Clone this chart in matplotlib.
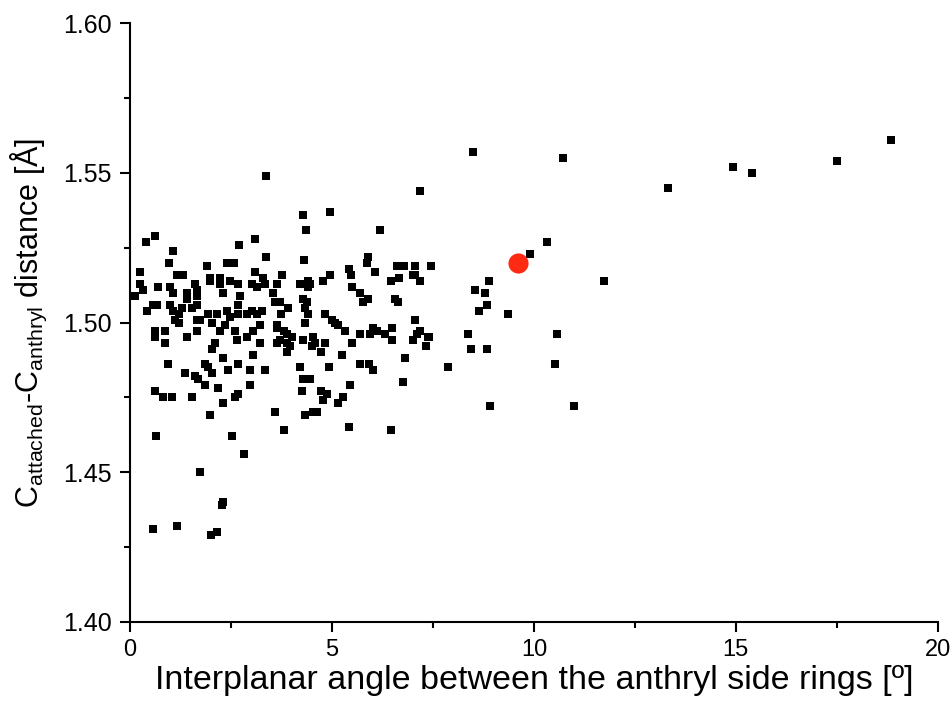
import matplotlib.pyplot as plt
from matplotlib.ticker import MultipleLocator, FormatStrFormatter

# interplanar angle [deg] and C-C distance [A]
angle = [
    11.73, 13.32, 14.93, 15.40, 17.50, 18.84,
    8.49, 10.72, 10.32, 9.90, 8.89, 8.54, 8.79, 7.45, 7.18,
    8.84, 8.64, 9.36, 7.40, 8.37, 8.44, 8.84, 10.57, 10.52, 7.87, 8.91, 10.99,
    # dense cluster, top rows
    0.25, 0.32, 0.69, 0.99, 1.06, 1.41, 1.61, 1.66, 1.98, 2.23, 2.30, 2.67,
    2.72, 3.02, 3.14, 3.34, 3.64, 3.54, 0.12,
    0.41, 0.58, 0.66, 0.99, 1.07, 1.20, 1.28, 1.40, 1.53, 1.65, 1.65, 1.94,
    2.15, 2.39, 2.48, 2.68, 2.68, 2.89, 3.01, 3.14, 3.26, 3.59,
    1.20, 1.11, 1.65, 1.73, 2.02, 2.23, 2.35, 2.60, 2.64, 2.89, 3.05, 3.22,
    3.63, 0.62, 0.62, 0.87, 0.87, 1.40, 1.65, 2.10, 2.02, 2.31, 2.68, 3.05,
    3.22, 3.63, 0.95, 1.36, 1.86, 1.94, 2.02, 2.43, 2.97, 3.34, 1.61, 1.69,
    1.86, 2.19, 2.97, 0.62, 0.82, 1.03, 1.53, 2.60, 2.68, 2.31, 1.98, 3.59,
    # low outliers
    0.64, 2.53, 2.82, 1.73, 2.31, 2.27, 0.58, 1.16, 2.15, 2.00,
    # upper part of the cluster
    3.37, 0.40, 0.62, 1.07, 0.97, 1.16, 1.31, 0.25, 1.91, 2.70, 3.09, 3.37,
    2.40, 2.57, 1.98, 2.23, 2.48, 3.09, 3.29,
    4.29, 4.95, 4.36, 6.19, 4.31, 5.90, 5.86, 6.06, 5.43, 5.46, 6.60, 6.78,
    7.05, 7.05, 7.00, 6.67, 6.45, 7.18, 3.77, 4.21, 4.41, 4.46, 4.77, 4.95,
    5.49,
    # middle part, x 3.5-7.5
    4.41, 5.69, 5.90, 5.78, 6.56, 6.64, 3.71, 3.92, 4.29, 4.37, 4.33, 4.41,
    4.33, 3.75, 3.63, 3.80, 3.88, 4.00, 3.71, 3.88, 3.96, 3.88, 4.29, 4.54,
    4.58, 4.50, 4.74, 4.83, 4.83, 4.99, 5.07, 5.16, 5.32, 5.49, 5.69, 5.94,
    6.02, 6.11, 6.31, 6.48, 6.48, 7.05, 7.01, 7.10, 7.18, 7.38, 7.34, 5.24,
    6.81, 4.21, 4.93, 5.69, 5.92, 6.02, 4.29, 4.46, 5.45, 6.77, 4.27, 4.74,
    4.87, 4.79, 5.16, 5.28, 4.33, 4.54, 4.62, 3.81, 5.42, 6.45,
]
distance = [
    1.514, 1.545, 1.552, 1.550, 1.554, 1.561,
    1.557, 1.555, 1.527, 1.523, 1.514, 1.511, 1.510, 1.519, 1.544,
    1.506, 1.504, 1.503, 1.495, 1.496, 1.491, 1.491, 1.496, 1.486, 1.485, 1.472, 1.472,
    1.513, 1.511, 1.512, 1.512, 1.510, 1.510, 1.513, 1.511, 1.514, 1.513, 1.510, 1.513,
    1.509, 1.513, 1.512, 1.513, 1.513, 1.510, 1.509,
    1.504, 1.506, 1.506, 1.506, 1.504, 1.503, 1.505, 1.508, 1.505, 1.506, 1.509, 1.503,
    1.503, 1.504, 1.502, 1.506, 1.503, 1.503, 1.504, 1.503, 1.504, 1.507,
    1.500, 1.501, 1.501, 1.501, 1.500, 1.497, 1.499, 1.497, 1.494, 1.495, 1.497, 1.499,
    1.498, 1.497, 1.495, 1.497, 1.493, 1.495, 1.497, 1.493, 1.491, 1.488, 1.486, 1.489,
    1.493, 1.493, 1.486, 1.483, 1.486, 1.485, 1.483, 1.484, 1.484, 1.484, 1.482, 1.481,
    1.479, 1.478, 1.479, 1.477, 1.475, 1.475, 1.475, 1.475, 1.476, 1.473, 1.469, 1.470,
    1.462, 1.462, 1.456, 1.450, 1.440, 1.439, 1.431, 1.432, 1.430, 1.429,
    1.549, 1.527, 1.529, 1.524, 1.520, 1.516, 1.516, 1.517, 1.519, 1.526, 1.528, 1.522,
    1.520, 1.520, 1.515, 1.515, 1.514, 1.517, 1.515,
    1.536, 1.537, 1.531, 1.531, 1.521, 1.522, 1.520, 1.517, 1.518, 1.516, 1.519, 1.519,
    1.519, 1.516, 1.516, 1.515, 1.514, 1.514, 1.516, 1.513, 1.514, 1.513, 1.514, 1.516,
    1.512,
    1.512, 1.510, 1.508, 1.507, 1.508, 1.507, 1.507, 1.505, 1.508, 1.507, 1.505, 1.503,
    1.500, 1.503, 1.499, 1.497, 1.496, 1.495, 1.494, 1.493, 1.492, 1.490, 1.494, 1.495,
    1.493, 1.492, 1.490, 1.493, 1.503, 1.501, 1.500, 1.499, 1.497, 1.493, 1.496, 1.496,
    1.498, 1.497, 1.496, 1.494, 1.498, 1.501, 1.494, 1.496, 1.497, 1.495, 1.492, 1.489,
    1.488, 1.485, 1.485, 1.486, 1.486, 1.484, 1.481, 1.481, 1.479, 1.480, 1.477, 1.477,
    1.476, 1.474, 1.473, 1.475, 1.469, 1.470, 1.470, 1.464, 1.465, 1.464,
]

# the highlighted structure
highlight_angle = [9.60]
highlight_distance = [1.520]

plt.rcParams['font.family'] = ['Liberation Sans', 'DejaVu Sans']
plt.rcParams['mathtext.fontset'] = 'custom'
plt.rcParams['mathtext.rm'] = 'Liberation Sans'
plt.rcParams['mathtext.it'] = 'Liberation Sans'

fig = plt.figure(figsize=(9.52, 7.06), dpi=100)
ax = fig.add_axes([0.1366, 0.119, 0.8484, 0.8484])

ax.scatter(angle, distance, marker='s', s=34, c='black', linewidths=0, zorder=2)
ax.scatter(highlight_angle, highlight_distance, marker='o', s=210,
           c='#ff2a12', linewidths=0, zorder=3)

ax.set_xlim(0, 20)
ax.set_ylim(1.40, 1.60)

ax.spines['top'].set_visible(False)
ax.spines['right'].set_visible(False)
ax.spines['left'].set_linewidth(1.5)
ax.spines['bottom'].set_linewidth(1.5)

ax.xaxis.set_major_locator(MultipleLocator(5))
ax.xaxis.set_minor_locator(MultipleLocator(2.5))
ax.yaxis.set_major_locator(MultipleLocator(0.05))
ax.yaxis.set_minor_locator(MultipleLocator(0.025))
ax.yaxis.set_major_formatter(FormatStrFormatter('%.2f'))

ax.tick_params(which='major', direction='out', length=7, width=1.5)
ax.tick_params(which='minor', direction='out', length=4, width=1.5)
ax.tick_params(axis='x', labelsize=17, pad=5)
ax.tick_params(axis='y', labelsize=18, pad=6)

ax.set_xlabel('Interplanar angle between the anthryl side rings [º]',
              fontsize=24.5, labelpad=3)
ax.set_ylabel(r'C$_{\mathrm{attached}}$-C$_{\mathrm{anthryl}}$ distance [Å]',
              fontsize=22, labelpad=10)

fig.savefig('out.png', dpi=100)
